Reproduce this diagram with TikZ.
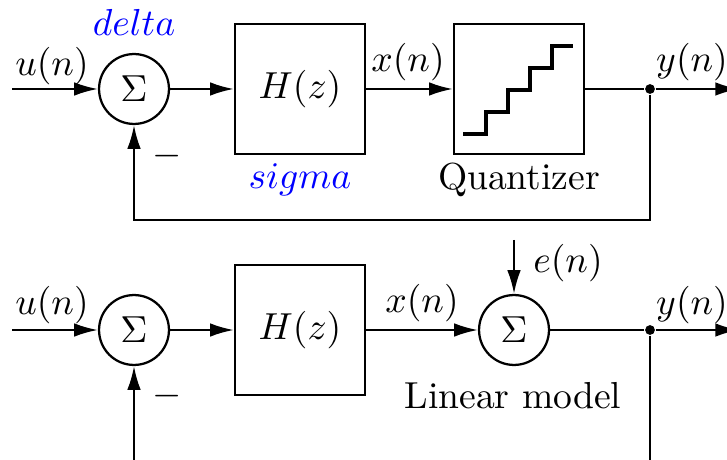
\documentclass[tikz,border=0pt]{standalone}
\usepackage{tikz}
\usetikzlibrary{arrows.meta,positioning,calc}
\tikzset{
  block/.style   = {draw, line width=0.6pt, rectangle, minimum width=34.6pt,
                    minimum height=34.6pt, inner sep=0pt, align=center},
  sumnode/.style = {draw, line width=0.6pt, circle, inner sep=0pt, minimum size=18.6pt},
  pickoff/.style = {fill, circle, inner sep=0pt, minimum size=2.6pt},
  sig/.style     = {-{Latex[length=6.3pt,width=3.6pt]}, line width=0.6pt},
  wire/.style    = {line width=0.6pt},
  stair/.style   = {line width=1.2pt},
}

\begin{document}
\begin{tikzpicture}[x=0.266pt, y=0.266pt]
\useasboundingbox (0,0) rectangle (727,459);
% ---- top loop: modulator with quantizer ----
\coordinate (in1) at (12,370);
\node[sumnode] (sum1) at (134,370) {$\Sigma$};
\node[block] (hz1) at (300,370) {$H(z)$};
\node[block] (quant) at (519,370) {};
\node[pickoff] (tap1) at (650,370) {};
\coordinate (out1) at (739,370);
\coordinate (fb1) at (134,239);
\draw[sig] (in1) -- (sum1);
\draw[sig] (sum1) -- (hz1);
\draw[sig] (hz1) -- (quant);
\draw[wire] (quant) -- (tap1);
\draw[sig] (tap1) -- (out1);
\draw[sig] (tap1) |- (fb1) -- (sum1);
% ---- staircase inside the quantizer ----
\draw[stair] (463,325) -| (486,347) -| (508,369) -| (530,391) -| (552,413) -- (573,413);
% ---- top labels ----
\node (lblu1) at (52,393) {$u(n)$};
\node[blue] (delta) at (134,437) {$delta$};
\node[blue] (sigma) at (300,279) {$sigma$};
\node (lblx1) at (408,397) {$x(n)$};
\node (qname) at (519,279) {Quantizer};
\node (lbly1) at (692,397) {$y(n)$};
\node (minus1) at (167,303) {$-$};
% ---- bottom loop: linear model ----
\coordinate (in2) at (12,129);
\node[sumnode] (sum2) at (134,129) {$\Sigma$};
\node[block] (hz2) at (300,129) {$H(z)$};
\node[sumnode] (sum3) at (514,129) {$\Sigma$};
\coordinate (noise) at (514,219);
\node[pickoff] (tap2) at (650,129) {};
\coordinate (out2) at (739,129);
\coordinate (fb2a) at (650,-10);
\coordinate (fb2b) at (134,-10);
\draw[sig] (in2) -- (sum2);
\draw[sig] (sum2) -- (hz2);
\draw[sig] (hz2) -- (sum3);
\draw[sig] (noise) -- (sum3);
\draw[wire] (sum3) -- (tap2);
\draw[sig] (tap2) -- (out2);
\draw[wire] (tap2) -- (fb2a);
\draw[sig] (fb2b) -- (sum2);
% ---- bottom labels ----
\node (lblu2) at (52,154) {$u(n)$};
\node (lblx2) at (422,156) {$x(n)$};
\node (lble) at (568,196) {$e(n)$};
\node (lbly2) at (692,154) {$y(n)$};
\node (lname) at (513,63) {Linear model};
\node (minus2) at (167,63) {$-$};
\end{tikzpicture}
\end{document}
